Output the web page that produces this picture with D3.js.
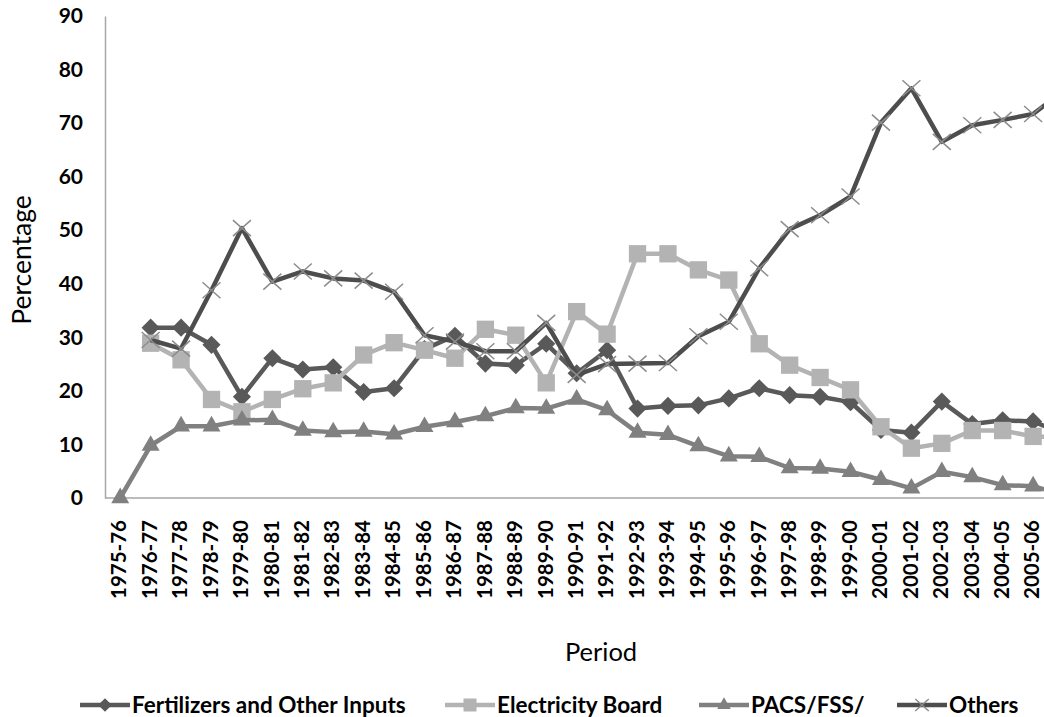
<!DOCTYPE html>
<html><head><meta charset="utf-8">
<script src="https://cdn.jsdelivr.net/npm/d3@7"></script>
<style>body{margin:0;background:#fff}svg{display:block}</style>
</head><body>
<svg id="c" width="1044" height="717"></svg>
<script>
const categories = ["1975-76","1976-77","1977-78","1978-79","1979-80","1980-81","1981-82","1982-83","1983-84","1984-85","1985-86","1986-87","1987-88","1988-89","1989-90","1990-91","1991-92","1992-93","1993-94","1994-95","1995-96","1996-97","1997-98","1998-99","1999-00","2000-01","2001-02","2002-03","2003-04","2004-05","2005-06","2006-07"];
const fertilizers = [null,31.8,31.8,28.6,18.9,26.1,24.0,24.4,19.8,20.5,27.8,30.3,25.1,24.8,28.8,23.3,27.6,16.7,17.2,17.3,18.6,20.5,19.2,18.9,17.9,12.7,12.2,18.0,13.8,14.5,14.3,12.0];
const electricity = [null,28.9,25.8,18.4,16.1,18.4,20.4,21.5,26.7,29.0,27.6,26.1,31.5,30.4,21.5,34.8,30.6,45.6,45.6,42.6,40.7,28.8,24.8,22.5,20.2,13.3,9.3,10.2,12.6,12.6,11.5,11.3];
const pacs = [0,9.8,13.4,13.4,14.5,14.6,12.6,12.3,12.4,11.9,13.3,14.2,15.3,16.8,16.7,18.4,16.4,12.2,11.8,9.7,7.8,7.7,5.6,5.5,4.9,3.4,1.8,4.9,3.9,2.4,2.2,0.6];
const others = [null,29.5,27.9,38.8,50.4,40.4,42.3,41.0,40.6,38.5,30.4,29.2,27.4,27.4,32.7,23.0,25.0,25.1,25.2,30.2,32.9,42.9,50.2,52.8,56.3,70.1,76.5,66.5,69.6,70.6,71.7,76.0];
const yTicks = [0,10,20,30,40,50,60,70,80,90];
const visibleTicks = categories.slice(0, 31);
const seriesNames = ["Fertilizers and Other Inputs","Electricity Board","PACS/FSS/","Others"];

const svg = d3.select("#c");
const pLeft = 105, pBottom = 498, pTop = 16, band = 30.43;
const x = d3.scalePoint().domain(categories).range([pLeft + band/2, pLeft + band*(categories.length - 0.5)]);
const y = d3.scaleLinear().domain([0,90]).range([pBottom, pTop]);

const FONT = "Lato, 'Open Sans', sans-serif";

// axes
const yAxis = d3.axisLeft(y).tickValues(yTicks).tickSize(0).tickPadding(22);
const gy = svg.append("g").attr("transform",`translate(${pLeft},0)`).call(yAxis);
gy.select(".domain").attr("stroke","#a6a6a6").attr("stroke-width",1.5);
gy.selectAll("text").attr("font-family",FONT).attr("font-weight","bold").attr("font-size",21).attr("fill","#000");

const xAxis = d3.axisBottom(x).tickValues(visibleTicks).tickSize(0).tickPadding(0);
const gx = svg.append("g").attr("transform",`translate(0,${pBottom})`).call(xAxis);
gx.select(".domain").attr("stroke","#a6a6a6").attr("stroke-width",1.5).attr("d",`M${pLeft},0H${pLeft+band*categories.length}`);
gx.selectAll("text").attr("font-family",FONT).attr("font-weight","bold").attr("font-size",20.5).attr("fill","#000")
  .attr("text-anchor","end").attr("dy","0.33em").attr("transform","translate(-1,22) rotate(-90)").attr("x",0).attr("y",0);

// titles
svg.append("text").attr("transform","translate(31,260) rotate(-90)").attr("text-anchor","middle")
  .attr("font-family",FONT).attr("font-size",26.5).attr("fill","#000").text("Percentage");
svg.append("text").attr("x",601).attr("y",661).attr("text-anchor","middle")
  .attr("font-family",FONT).attr("font-size",25.5).attr("fill","#000").text("Period");

// series
const diamond = d3.symbol(d3.symbolSquare, 165)();
const square = d3.symbol(d3.symbolSquare, 300)();
const tri = d3.symbol(d3.symbolTriangle, 140)();
const cross = "M-9,-8L9,8M-9,8L9,-8";
const series = [
  {name:seriesNames[0], vals:fertilizers, color:"#595959", mark:diamond, rot:45, fill:"#595959"},
  {name:seriesNames[1], vals:electricity, color:"#b3b3b3", mark:square, rot:0, fill:"#b3b3b3"},
  {name:seriesNames[2], vals:pacs, color:"#808080", mark:tri, rot:0, fill:"#808080"},
  {name:seriesNames[3], vals:others, color:"#4d4d4d", mark:cross, rot:0, fill:"none", mstroke:"#8c8c8c"}
];
const line = d3.line().defined(d => d.v != null).x(d => x(d.c)).y(d => y(d.v));
series.forEach(s => {
  const pts = categories.map((c,i) => ({c, v:s.vals[i]}));
  const g = svg.append("g");
  g.append("path").attr("d", line(pts)).attr("fill","none").attr("stroke",s.color).attr("stroke-width",4.5).attr("stroke-linejoin","round");
  g.selectAll("path.m").data(pts.filter(d => d.v != null)).join("path").attr("class","m")
    .attr("d", s.mark)
    .attr("transform", d => `translate(${x(d.c)},${y(d.v)}) rotate(${s.rot})`)
    .attr("fill", s.fill)
    .attr("stroke", s.mstroke || "none").attr("stroke-width", 1.5);
});

// legend
const legX = [80, 445, 699, 897];
const legY = 705;
series.forEach((s,i) => {
  const g = svg.append("g").attr("transform",`translate(${legX[i]},${legY})`);
  g.append("line").attr("x1",0).attr("x2",50).attr("stroke",s.color).attr("stroke-width",4.5);
  g.append("path").attr("d", s.mark).attr("transform",`translate(25,0) rotate(${s.rot}) scale(0.75)`)
    .attr("fill", s.fill).attr("stroke", s.mstroke || "none").attr("stroke-width", 2);
  g.append("text").attr("x",52).attr("y",0).attr("dy","0.35em").attr("font-family",FONT).attr("font-weight","bold")
    .attr("font-size",22.5).attr("fill","#000").text(s.name);
});
</script>
</body></html>
